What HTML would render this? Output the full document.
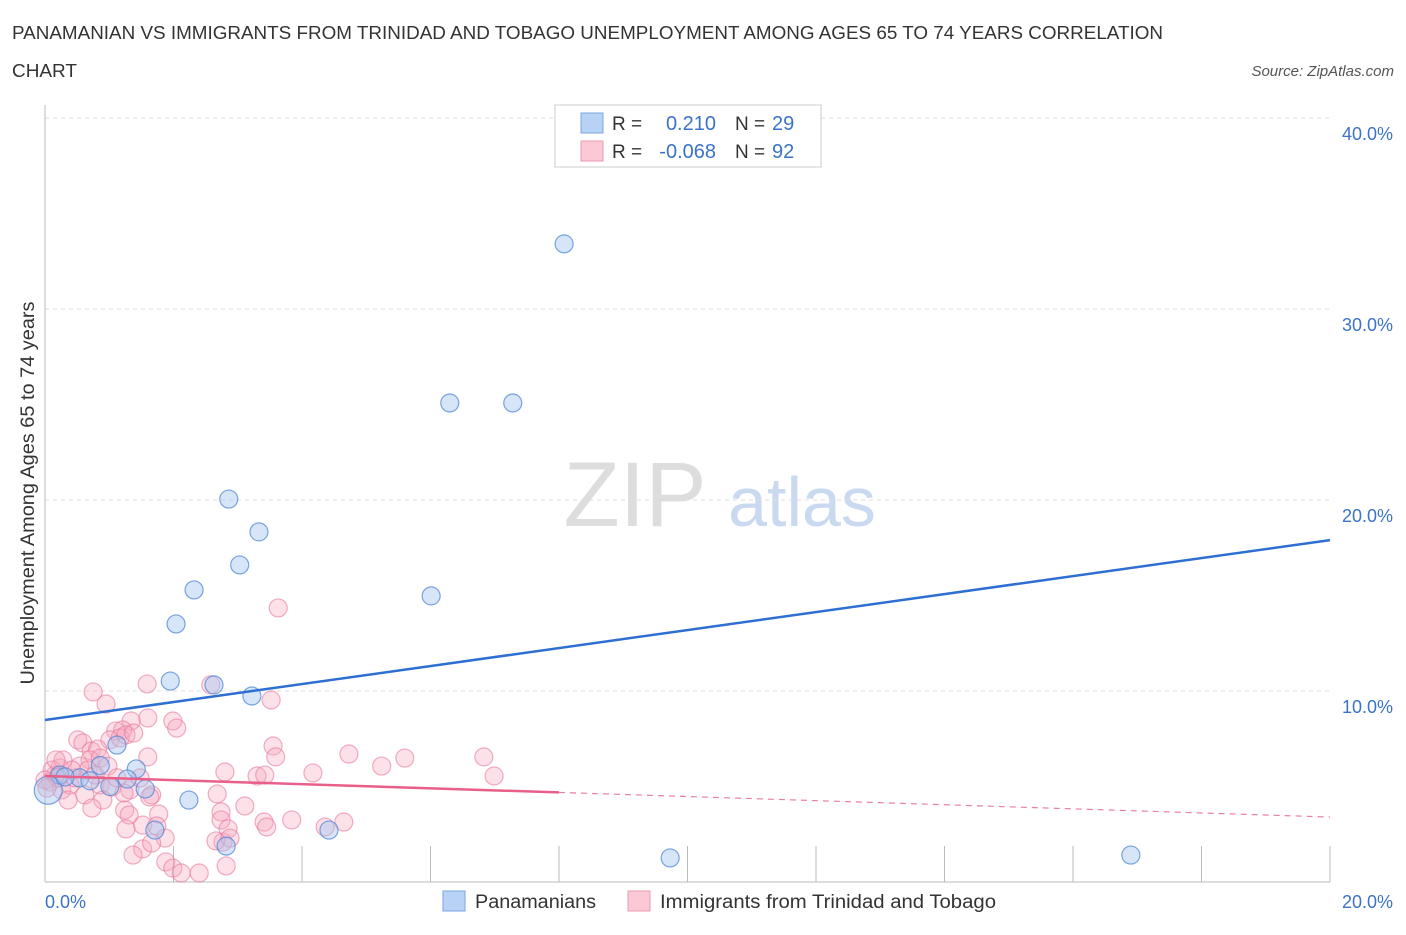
<!DOCTYPE html>
<html><head><meta charset="utf-8"><style>
body{margin:0;background:#fff;font-family:"Liberation Sans",sans-serif;}
svg text{font-family:"Liberation Sans",sans-serif;}
</style></head><body>
<svg id="c" width="1406" height="930" viewBox="0 0 1406 930">
<text x="12" y="39" font-size="18" fill="#333" textLength="1151" lengthAdjust="spacingAndGlyphs">PANAMANIAN VS IMMIGRANTS FROM TRINIDAD AND TOBAGO UNEMPLOYMENT AMONG AGES 65 TO 74 YEARS CORRELATION</text>
<text x="12" y="77" font-size="18" fill="#333" textLength="65" lengthAdjust="spacingAndGlyphs">CHART</text>
<text x="1394" y="76" font-size="15" fill="#555" font-style="italic" text-anchor="end">Source: ZipAtlas.com</text>
<text x="635" y="526" font-size="92" fill="#ddd" font-family="Liberation Serif,serif" text-anchor="middle">ZIP</text>
<text x="802" y="526" font-size="70" fill="#c9d9f0" text-anchor="middle">atlas</text>
<g id="grid"></g>
<g id="pts"></g>
<g id="lines"></g>
<text transform="translate(34,493) rotate(-90)" font-size="19" fill="#333" text-anchor="middle" textLength="383" lengthAdjust="spacingAndGlyphs">Unemployment Among Ages 65 to 74 years</text>
<rect x="555" y="105" width="266" height="62" fill="#fff" stroke="#ccc"/>
<rect x="581" y="113" width="22" height="20" fill="#b8d2f5" stroke="#7aa6e2"/>
<rect x="581" y="141" width="22" height="20" fill="#fbc8d6" stroke="#ee9ab3"/>
<text x="612" y="130" font-size="19" fill="#333">R =</text>
<text x="716" y="130" font-size="20" fill="#3b73c9" text-anchor="end">0.210</text>
<text x="735" y="130" font-size="19" fill="#333">N =</text>
<text x="772" y="130" font-size="20" fill="#3b73c9">29</text>
<text x="612" y="158" font-size="19" fill="#333">R =</text>
<text x="716" y="158" font-size="20" fill="#3b73c9" text-anchor="end">-0.068</text>
<text x="735" y="158" font-size="19" fill="#333">N =</text>
<text x="772" y="158" font-size="20" fill="#3b73c9">92</text>
<text x="45" y="908" font-size="18" fill="#3b73c9">0.0%</text>
<text x="1393" y="908" font-size="18" fill="#3b73c9" text-anchor="end">20.0%</text>
<rect x="443" y="891" width="22" height="20" fill="#b8d2f5" stroke="#7aa6e2"/>
<text x="475" y="908" font-size="19" fill="#333" textLength="121" lengthAdjust="spacingAndGlyphs">Panamanians</text>
<rect x="628" y="891" width="22" height="20" fill="#fbc8d6" stroke="#ee9ab3"/>
<text x="660" y="908" font-size="19" fill="#333" textLength="336" lengthAdjust="spacingAndGlyphs">Immigrants from Trinidad and Tobago</text>
</svg>
<script>
const yTicks=[10,20,30,40];
const yTickLabels=["10.0%","20.0%","30.0%","40.0%"];
const blueX=[8.08,6.30,7.28,2.86,3.33,3.03,2.32,6.01,2.04,1.95,2.63,3.22,1.12,1.42,1.28,1.56,0.23,0.54,1.71,2.24,2.82,4.42,9.73,16.9,0.05,0.86,0.31,0.70,1.01];
const blueY=[33.41,25.08,25.08,20.05,18.33,16.60,15.29,14.98,13.51,10.52,10.32,9.74,7.17,5.92,5.39,4.87,5.6,5.45,2.72,4.29,1.88,2.72,1.26,1.41,4.8,6.1,5.5,5.3,5.0];
const pinkX=[3.63,0.75,0.95,1.59,2.58,1.99,2.05,1.60,1.34,1.10,1.21,3.52,0.51,0.59,1.01,1.17,1.26,1.38,0.72,0.82,3.55,3.59,2.80,3.30,3.42,4.17,4.73,5.24,5.60,6.83,6.99,1.60,0.70,0.54,0.23,0.16,0.08,0.26,0.39,0.86,1.04,1.32,1.48,0.11,0.20,0.47,0.67,0.78,0.62,0.36,0.90,0.73,1.23,1.66,1.24,1.31,1.63,2.68,3.11,2.74,2.74,2.77,2.66,1.77,1.52,1.74,1.26,1.52,1.87,1.66,2.85,2.88,3.41,3.45,3.84,4.36,4.65,1.37,1.88,1.99,2.12,2.40,2.82,0.86,0.98,1.12,0.28,0.42,0.0,0.03,0.17];
const pinkY=[14.35,9.95,9.32,10.37,10.32,8.43,8.06,8.59,8.43,7.91,7.96,9.53,7.44,7.28,7.44,7.54,7.70,7.80,6.86,6.96,7.12,6.55,5.76,5.55,5.60,5.71,6.70,6.07,6.49,6.55,5.55,6.55,6.39,6.07,5.97,5.60,5.24,4.82,5.08,5.08,4.97,4.82,5.45,5.86,5.45,5.45,5.86,5.60,4.56,4.29,4.29,3.87,4.66,4.56,3.77,3.51,4.45,4.61,3.98,3.67,3.25,2.09,2.15,3.56,2.98,2.93,2.78,1.73,2.30,2.04,2.78,2.30,3.14,2.88,3.25,2.88,3.14,1.41,1.05,0.73,0.47,0.47,0.84,6.49,6.07,5.45,6.39,5.86,5.34,4.92,6.39];
const blueTrend=[8.48,17.9];
const pinkTrend=[5.55,3.4];
const pinkSolidEnd=8.0;
const X0=45,X1=1330,Y0=882,PER=19.1;
const sx=v=>X0+(X1-X0)*v/20, sy=v=>Y0-PER*v;
const NS="http://www.w3.org/2000/svg";
function mk(t,a,p){const e=document.createElementNS(NS,t);for(const k in a)e.setAttribute(k,a[k]);p.appendChild(e);return e;}
const grid=document.getElementById('grid');
yTicks.forEach((t,i)=>{
 const l=mk('line',{x1:X0,x2:X1,y1:sy(t),y2:sy(t),stroke:'#ddd','stroke-dasharray':'4,4'},grid);
 
 
 const tx=mk('text',{x:1393,y:sy(t)+22,'font-size':18,fill:'#3b73c9','text-anchor':'end'},grid);
 tx.textContent=yTickLabels[i];
 
 
});
const ax=mk('line',{x1:X0,x2:X0,y1:105,y2:Y0,stroke:'#bbb'},grid);


const bx=mk('line',{x1:X0,x2:X1,y1:Y0,y2:Y0,stroke:'#bbb'},grid);


for(let k=1;k<=10;k++){const v=k*2;
 const t=mk('line',{x1:sx(v),x2:sx(v),y1:Y0-36,y2:Y0,stroke:'#bbb'},grid);
 
 }
const pts=document.getElementById('pts');
pinkX.forEach((x,i)=>{
 const c=mk('circle',{cx:sx(x),cy:sy(pinkY[i]),r:9,fill:'rgba(245,170,192,0.35)',stroke:'rgba(232,120,155,0.6)','stroke-width':1.2},pts);
 
 
});
blueX.forEach((x,i)=>{
 const c=mk('circle',{cx:sx(x),cy:sy(blueY[i]),r:i==24?14:9,fill:'rgba(165,198,240,0.45)',stroke:'rgba(80,135,215,0.75)','stroke-width':1.2},pts);
 
 
});
const ln=document.getElementById('lines');
const b=mk('line',{x1:sx(0),y1:sy(blueTrend[0]),x2:sx(20),y2:sy(blueTrend[1]),stroke:'#2d6fd2','stroke-width':2.5},ln);


const pm=v=>pinkTrend[0]+(pinkTrend[1]-pinkTrend[0])*v/20;
const p1=mk('line',{x1:sx(0),y1:sy(pm(0)),x2:sx(pinkSolidEnd),y2:sy(pm(pinkSolidEnd)),stroke:'#e8608a','stroke-width':2.5},ln);


const p2=mk('line',{x1:sx(pinkSolidEnd),y1:sy(pm(pinkSolidEnd)),x2:sx(20),y2:sy(pm(20)),stroke:'#e8809f','stroke-width':1.2,'stroke-dasharray':'6,5'},ln);


</script>
</body></html>
